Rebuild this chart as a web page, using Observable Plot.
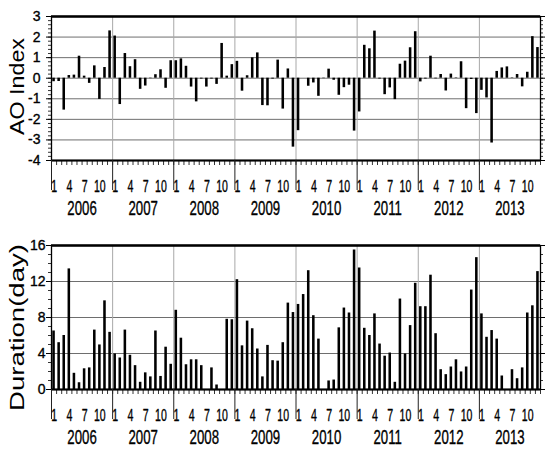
<!DOCTYPE html>
<html><head><meta charset="utf-8">
<script src="https://cdn.jsdelivr.net/npm/d3@7"></script>
<script src="https://cdn.jsdelivr.net/npm/@observablehq/plot@0.6"></script>
<style>
body{margin:0;background:#fff;}
#chart svg{display:block;}
</style></head><body><div id="chart"></div>
<script>
const years = [2006, 2007, 2008, 2009, 2010, 2011, 2012, 2013];
const monthTickLabels = [1, 4, 7, 10];
const aoTicks = [-4, -3, -2, -1, 0, 1, 2, 3];
const durationTicks = [0, 4, 8, 12, 16];

// Monthly AO index, Jan 2006 - Dec 2013 (Feb 2010 not drawn in the reference)
const aoValues = [
  -0.17, -0.16, -1.55, 0.13, 0.15, 1.07, 0.1, -0.25, 0.6, -1.03, 0.52, 2.3,
  2.05, -1.28, 1.2, 0.56, 0.9, -0.54, -0.38, -0.02, 0.17, 0.41, -0.49, 0.85,
  0.85, 0.94, 0.58, -0.43, -1.15, -0.04, -0.43, -0.04, -0.3, 1.69, 0.1, 0.66,
  0.82, -0.63, 0.12, 0.99, 1.23, -1.33, -1.34, -0.04, 0.88, -1.5, 0.45, -3.35,
  -2.55, null, -0.39, -0.23, -0.88, -0.02, 0.44, -0.1, -0.83, -0.46, -0.34, -2.57,
  -1.64, 1.6, 1.43, 2.29, -0.04, -0.8, -0.47, -1.04, 0.68, 0.83, 1.48, 2.26,
  -0.18, -0.04, 1.07, -0.03, 0.18, -0.62, 0.2, 0.02, 0.8, -1.48, -0.06, -1.72,
  -0.59, -0.96, -3.15, 0.33, 0.5, 0.55, 0.02, 0.18, -0.42, 0.29, 2.02, 1.49
];

// Monthly duration (days), Jan 2006 - Dec 2013
const durationValues = [
  6.5, 5.2, 6.0, 13.4, 1.8, 0.75, 2.3, 2.4, 6.6, 4.95, 9.85, 6.35,
  3.95, 3.5, 6.6, 3.8, 2.65, 0.8, 1.85, 1.4, 6.5, 1.45, 4.7, 2.8,
  8.8, 5.7, 2.75, 3.3, 3.3, 2.65, 0, 2.4, 0.5, 0, 7.8, 7.75,
  12.2, 4.85, 7.6, 6.75, 4.5, 1.4, 4.9, 3.2, 3.15, 5.2, 9.6, 8.55,
  9.45, 10.55, 13.2, 8.2, 5.6, 0, 0.95, 1.05, 6.85, 9.05, 8.5, 15.5,
  13.5, 6.8, 6.0, 8.4, 5.05, 3.7, 4.05, 0.8, 10.05, 3.95, 7.1, 11.8,
  9.2, 9.2, 12.7, 6.2, 2.2, 1.65, 2.5, 3.3, 1.95, 2.5, 11.05, 14.65,
  8.4, 5.8, 6.55, 5.6, 1.5, 0, 2.2, 1.2, 2.4, 8.5, 9.3, 13.1
];

const W = 545, ML = 51, MR = 5;
const nMonths = years.length * 12;
const months = d3.range(nMonths);
const monthBounds = d3.range(nMonths + 1);
const yearBounds = d3.range(0, nMonths, 12);
const monthLabelRows = years.flatMap((y, yi) => monthTickLabels.map(m => ({pos: yi * 12 + m - 0.5, text: String(m)})));
const yearLabelRows = years.map((y, yi) => ({pos: yi * 12 + 6, text: String(y)}));
const FONT = "'Liberation Sans', Arial, Helvetica, sans-serif";
const MONTH_FS = 16, YEAR_FS = 20, TITLE_FS = 21;

function panel(o) {
  const frameH = o.height - o.mt - o.mb;
  const frameW = W - ML - MR;
  const data = months.map(i => ({i, v: o.values[i]})).filter(d => d.v != null);
  const minor = d3.range(0, Math.round((o.domain[1] - o.domain[0]) / o.minorStep) + 1).map(k => o.domain[0] + k * o.minorStep);
  const grid = o.ticks.filter(t => t > o.domain[0] && t < o.domain[1]);
  const bold = {fill: "black", stroke: "black", strokeWidth: 0.35};
  return Plot.plot({
    width: W, height: o.height,
    marginLeft: ML, marginRight: MR, marginTop: o.mt, marginBottom: o.mb,
    x: {domain: [0, nMonths], axis: null},
    y: {domain: o.domain, axis: null},
    style: {fontFamily: FONT, background: "white", overflow: "visible", color: "black"},
    marks: [
      Plot.ruleY(grid, {y: d => d, stroke: "#6e6e6e", strokeWidth: 1}),
      Plot.ruleX(yearBounds.slice(1), {x: d => d, stroke: "#a8a8a8", strokeWidth: 1}),
      Plot.rect(data, {x1: d => d.i + 0.25, x2: d => d.i + 0.75, y1: 0, y2: d => d.v, fill: "black"}),
      Plot.frame({stroke: "black", strokeWidth: 1.3}),
      Plot.ruleY([o.domain[1]], {y: d => d, stroke: "black", strokeWidth: 2.6}),
      Plot.ruleY([o.domain[0]], {y: d => d, stroke: "black", strokeWidth: 2}),
      Plot.ruleY(minor, {y: d => d, insetLeft: -3, insetRight: frameW, stroke: "black", strokeWidth: 0.8}),
      Plot.ruleY(minor, {y: d => d, insetLeft: frameW, insetRight: -3, stroke: "black", strokeWidth: 0.8}),
      Plot.ruleY(o.ticks, {y: d => d, insetLeft: -5, insetRight: frameW, stroke: "black", strokeWidth: 1}),
      Plot.ruleY(o.ticks, {y: d => d, insetLeft: frameW, insetRight: -5, stroke: "black", strokeWidth: 1}),
      Plot.ruleX(monthBounds, {x: d => d, insetTop: frameH, insetBottom: -5, stroke: "black", strokeWidth: 0.8}),
      Plot.ruleX(yearBounds, {x: d => d, insetTop: frameH, insetBottom: -30, stroke: "#222", strokeWidth: 1}),
      Plot.text(o.ticks, {y: d => d, text: d => String(d), frameAnchor: "left", dx: o.tickDx, textAnchor: "end", fontSize: 14, ...bold}),
      Plot.text(monthLabelRows, {x: "pos", text: "text", frameAnchor: "bottom", dy: 31, fontSize: MONTH_FS, ...bold}),
      Plot.text(yearLabelRows, {x: "pos", text: "text", frameAnchor: "bottom", dy: 54, fontSize: YEAR_FS, ...bold}),
      Plot.text([o.title], {text: d => d, frameAnchor: "left", dx: -34, dy: o.titleDy, rotate: -90, fontSize: TITLE_FS, fill: "black"})
    ]
  });
}

const chartEl = document.getElementById("chart");
const topPanel = panel({values: aoValues, domain: [-4, 3], ticks: aoTicks, minorStep: 0.2, title: "AO Index",
  height: 230, mt: 16, mb: 70, titleDy: -2, tickDx: -11});
const bottomPanel = panel({values: durationValues, domain: [0, 16], ticks: durationTicks, minorStep: 1, title: "Duration(day)",
  height: 224, mt: 15, mb: 65, titleDy: 10, tickDx: -6});
chartEl.appendChild(topPanel);
chartEl.appendChild(bottomPanel);

// condense labels: fix length, anchor at start and shift back by half the length to stay centred
function fit(t, len) {
  t.setAttribute("textLength", len.toFixed(1));
  t.setAttribute("lengthAdjust", "spacingAndGlyphs");
  t.setAttribute("text-anchor", "start");
  t.setAttribute("x", (-len / 2).toFixed(1));
}
function squeeze(svg, titleLen) {
  svg.querySelectorAll(`g[font-size="${MONTH_FS}"] text, g[font-size="${YEAR_FS}"] text`).forEach(t => {
    fit(t, t.getComputedTextLength() * 0.66);
  });
  svg.querySelectorAll(`g[font-size="${TITLE_FS}"] text`).forEach(t => fit(t, titleLen));
}
squeeze(topPanel, 97);
squeeze(bottomPanel, 167);
</script>
</body></html>
